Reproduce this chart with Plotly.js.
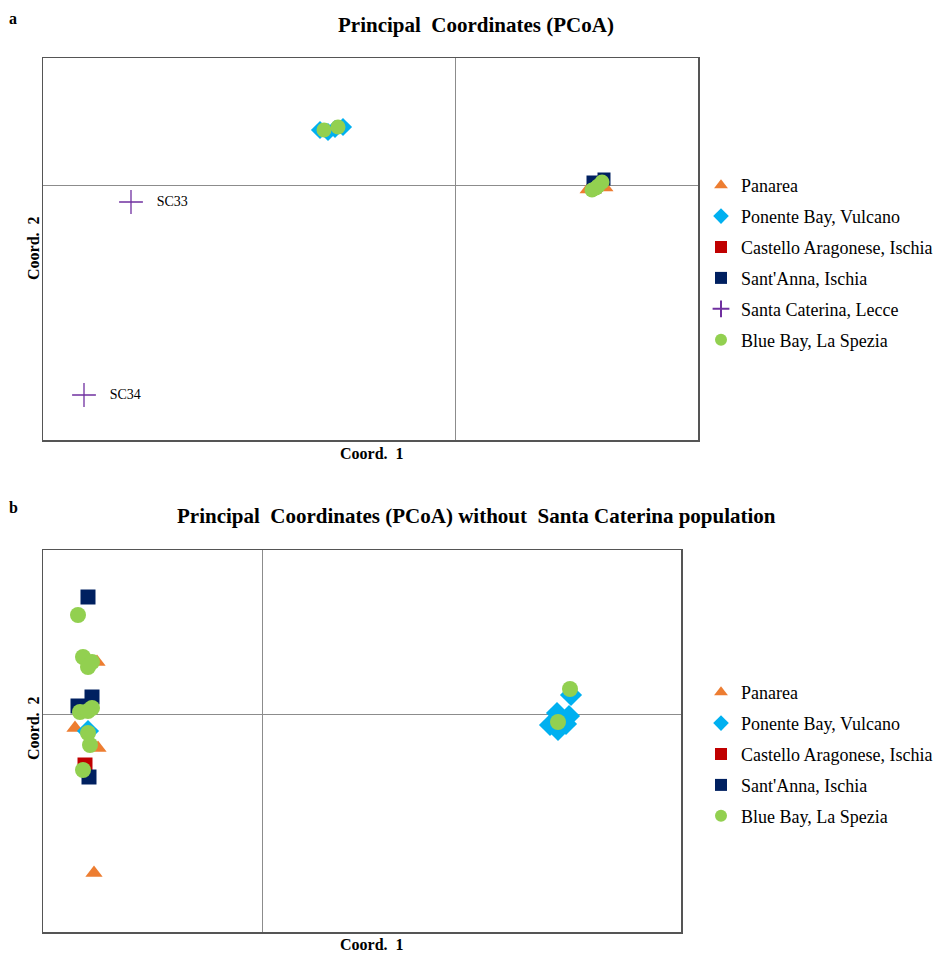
<!DOCTYPE html>
<html><head><meta charset="utf-8">
<script src="https://cdn.plot.ly/plotly-3.0.1.min.js"></script>
<style>html,body{margin:0;padding:0;background:#fff}</style>
</head><body><div id="chart" style="width:943px;height:956px"></div>
<script>
// ---- Panel a data ----
const aPanareaX = [0.33, 0.3775];
const aPanareaY = [-0.0125, -0.0075];
const aPonenteX = [-0.3375, -0.30, -0.28, -0.3175];
const aPonenteY = [0.1375, 0.14, 0.145, 0.1325];
const aCastelloX = [0.35];
const aCastelloY = [-0.005];
const aSantAnnaX = [0.345, 0.3725];
const aSantAnnaY = [0.0075, 0.015];
const aCaterinaX = [-0.81, -0.9275];
const aCaterinaY = [-0.0425, -0.525];
const aCaterinaLabels = ["SC33", "SC34"];
const aBlueBayX = [-0.3275, -0.2925, 0.3425, 0.3575, 0.3675, 0.3525];
const aBlueBayY = [0.1375, 0.145, -0.0125, -0.0025, 0.0075, -0.0075];

// ---- Panel b data ----
const bPanareaX = [-0.4125, -0.4675, -0.41, -0.42];
const bPanareaY = [0.13, -0.035, -0.085, -0.3975];
const bPonenteX = [-0.435, 0.7725, 0.72, 0.7375, 0.7675, 0.74, 0.76];
const bPonenteY = [-0.0425, 0.0475, -0.0275, 0.0025, -0.005, -0.04, -0.025];
const bCastelloX = [-0.4425];
const bCastelloY = [-0.1275];
const bSantAnnaX = [-0.435, -0.46, -0.425, -0.4325];
const bSantAnnaY = [0.2925, 0.02, 0.0425, -0.1575];
const bBlueBayX = [-0.46, -0.4475, -0.425, -0.435, -0.455, -0.425, -0.435, -0.435, -0.43, -0.4475, 0.77, 0.74];
const bBlueBayY = [0.2475, 0.1425, 0.13, 0.1175, 0.005, 0.015, 0.0075, -0.0475, -0.0775, -0.14, 0.0625, -0.02];

const names = {
  pan: "Panarea", pon: "Ponente Bay, Vulcano", cas: "Castello Aragonese, Ischia",
  san: "Sant'Anna, Ischia", cat: "Santa Caterina, Lecce", blu: "Blue Bay, La Spezia"
};
const col = {pan:"#ED7D31", pon:"#00B0F0", cas:"#C00000", san:"#002060", cat:"#7030A0", blu:"#92D050"};

function tr(x, y, key, sym, size, xa, ya, leg, extra) {
  const t = {
    type: "scatter", mode: "markers", x: x, y: y, name: names[key],
    xaxis: xa, yaxis: ya, legend: leg, legendgroup: key + leg,
    marker: {symbol: sym, size: size, color: col[key], line: {width: 0}},
    hoverinfo: "skip"
  };
  return Object.assign(t, extra || {});
}

const traces = [
  tr(aPanareaX, aPanareaY, "pan", "triangle-up", 13, "x", "y", "legend"),
  tr(aPonenteX, aPonenteY, "pon", "diamond", 14, "x", "y", "legend"),
  tr(aCastelloX, aCastelloY, "cas", "square", 13, "x", "y", "legend"),
  tr(aSantAnnaX, aSantAnnaY, "san", "square", 13, "x", "y", "legend"),
  tr(aCaterinaX, aCaterinaY, "cat", "cross-thin", 16, "x", "y", "legend", {
    mode: "markers+text", text: aCaterinaLabels.map(s => "    " + s),
    textposition: "middle right",
    textfont: {family: "Liberation Serif", size: 14, color: "#000"},
    marker: {symbol: "cross-thin", size: 17, color: col.cat, line: {width: 1.3, color: col.cat}}
  }),
  tr(aBlueBayX, aBlueBayY, "blu", "circle", 15, "x", "y", "legend"),

  tr(bPanareaX, bPanareaY, "pan", "triangle-up", 15, "x2", "y2", "legend2"),
  tr(bPonenteX, bPonenteY, "pon", "diamond", 17, "x2", "y2", "legend2"),
  tr(bCastelloX, bCastelloY, "cas", "square", 15, "x2", "y2", "legend2"),
  tr(bSantAnnaX, bSantAnnaY, "san", "square", 15, "x2", "y2", "legend2"),
  tr(bBlueBayX, bBlueBayY, "blu", "circle", 16, "x2", "y2", "legend2")
];

const W = 943, H = 956;
function ax(d, r) {
  return {
    domain: d, range: r, showticklabels: false, ticks: "", showgrid: false,
    zeroline: true, zerolinecolor: "#8c8c8c", zerolinewidth: 1,
    showline: true, mirror: true, linecolor: "#555555", linewidth: 1.5, fixedrange: true
  };
}
const serifB = {family: "Liberation Serif", size: 16, color: "#000"};
const titleF = {family: "Liberation Serif", size: 21, color: "#000"};
const axF = {family: "Liberation Serif", size: 16, color: "#000"};
const legFont = {family: "Liberation Serif", size: 18, color: "#000"};

const layout = {
  width: W, height: H, margin: {l: 0, r: 0, t: 0, b: 0},
  paper_bgcolor: "#fff", plot_bgcolor: "#fff", showlegend: true,
  xaxis: Object.assign(ax([43/W, 698/W], [-1.03, 0.6075]), {anchor: "y"}),
  yaxis: Object.assign(ax([1 - 440/H, 1 - 58/H], [-0.6375, 0.3175]), {anchor: "x"}),
  xaxis2: Object.assign(ax([43/W, 681/W], [-0.5475, 1.0475]), {anchor: "y2"}),
  yaxis2: Object.assign(ax([1 - 932/H, 1 - 550/H], [-0.545, 0.41]), {anchor: "x2"}),
  legend: {x: 701/W, y: 1 - 167/H, xanchor: "left", yanchor: "top", font: legFont,
           traceorder: "grouped", tracegroupgap: 4.5, itemsizing: "constant", bgcolor: "rgba(0,0,0,0)"},
  legend2: {x: 701/W, y: 1 - 674/H, xanchor: "left", yanchor: "top", font: legFont,
           traceorder: "grouped", tracegroupgap: 4.5, itemsizing: "constant", bgcolor: "rgba(0,0,0,0)"},
  annotations: [
    {text: "<b>a</b>", x: 13/W, y: 1 - 18/H, xref: "paper", yref: "paper", showarrow: false, font: serifB, xanchor: "center", yanchor: "middle"},
    {text: "<b>Principal  Coordinates (PCoA)</b>", x: 476/W, y: 1 - 25/H, xref: "paper", yref: "paper", showarrow: false, font: titleF, xanchor: "center", yanchor: "middle"},
    {text: "<b>Coord.  1</b>", x: 372/W, y: 1 - 453/H, xref: "paper", yref: "paper", showarrow: false, font: axF, xanchor: "center", yanchor: "middle"},
    {text: "<b>Coord.  2</b>", x: 33/W, y: 1 - 248/H, xref: "paper", yref: "paper", showarrow: false, textangle: -90, font: axF, xanchor: "center", yanchor: "middle"},
    {text: "<b>b</b>", x: 13/W, y: 1 - 507/H, xref: "paper", yref: "paper", showarrow: false, font: serifB, xanchor: "center", yanchor: "middle"},
    {text: "<b>Principal  Coordinates (PCoA) without  Santa Caterina population</b>", x: 476/W, y: 1 - 516/H, xref: "paper", yref: "paper", showarrow: false, font: titleF, xanchor: "center", yanchor: "middle"},
    {text: "<b>Coord.  1</b>", x: 372/W, y: 1 - 944/H, xref: "paper", yref: "paper", showarrow: false, font: axF, xanchor: "center", yanchor: "middle"},
    {text: "<b>Coord.  2</b>", x: 33/W, y: 1 - 728/H, xref: "paper", yref: "paper", showarrow: false, textangle: -90, font: axF, xanchor: "center", yanchor: "middle"}
  ]
};

Plotly.newPlot("chart", traces, layout, {displayModeBar: false, staticPlot: true});
</script>
</body></html>
